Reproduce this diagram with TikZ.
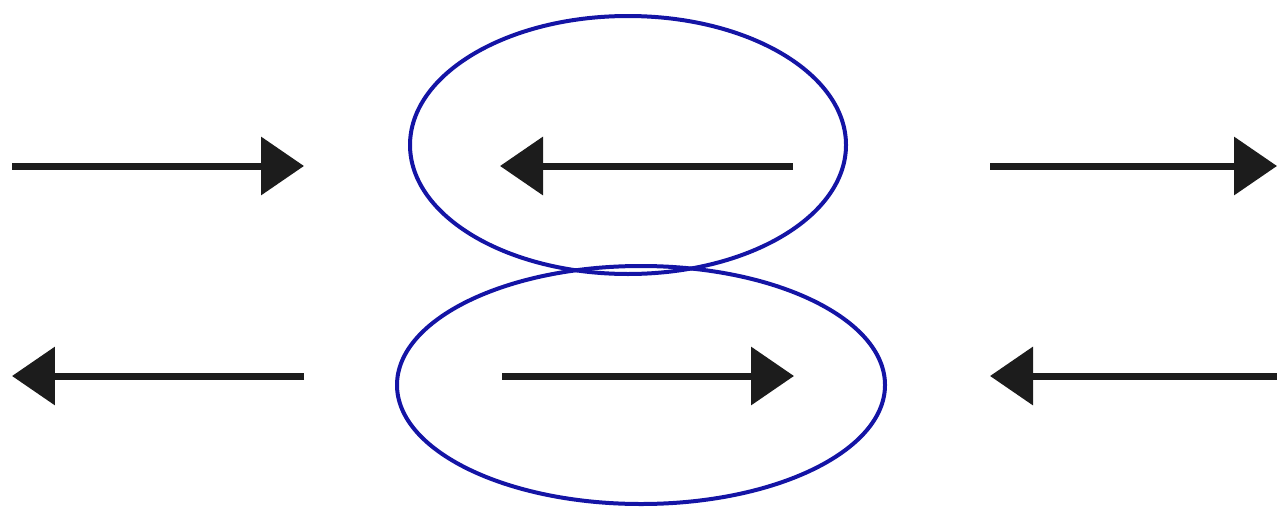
\documentclass[tikz,border=0pt]{standalone}
\usetikzlibrary{arrows.meta}
\definecolor{ellblue}{RGB}{20,20,165}
\definecolor{arrblack}{RGB}{28,28,28}
\begin{document}
\begin{tikzpicture}[x=0.02cm,y=-0.02cm,
  arr/.style={draw=arrblack,line width=0.14cm,-{Triangle[length=0.86cm,width=1.14cm,fill=arrblack]}},
  ell/.style={draw=ellblue,line width=0.08cm}]
\useasboundingbox (0,0) rectangle (1277,507);
% ellipses
\draw[ell] (628,145) ellipse [x radius=218,y radius=129];
\draw[ell] (641,385) ellipse [x radius=244,y radius=119];
% row 1
\coordinate (a1s) at (12,166); \coordinate (a1e) at (304,166);
\coordinate (a2s) at (793,166); \coordinate (a2e) at (500,166);
\coordinate (a3s) at (990,166); \coordinate (a3e) at (1277,166);
% row 2
\coordinate (b1s) at (304,376); \coordinate (b1e) at (12,376);
\coordinate (b2s) at (502,376); \coordinate (b2e) at (794,376);
\coordinate (b3s) at (1277,376); \coordinate (b3e) at (990,376);
\draw[arr] (a1s) -- (a1e);
\draw[arr] (a2s) -- (a2e);
\draw[arr] (a3s) -- (a3e);
\draw[arr] (b1s) -- (b1e);
\draw[arr] (b2s) -- (b2e);
\draw[arr] (b3s) -- (b3e);
\end{tikzpicture}
\end{document}
